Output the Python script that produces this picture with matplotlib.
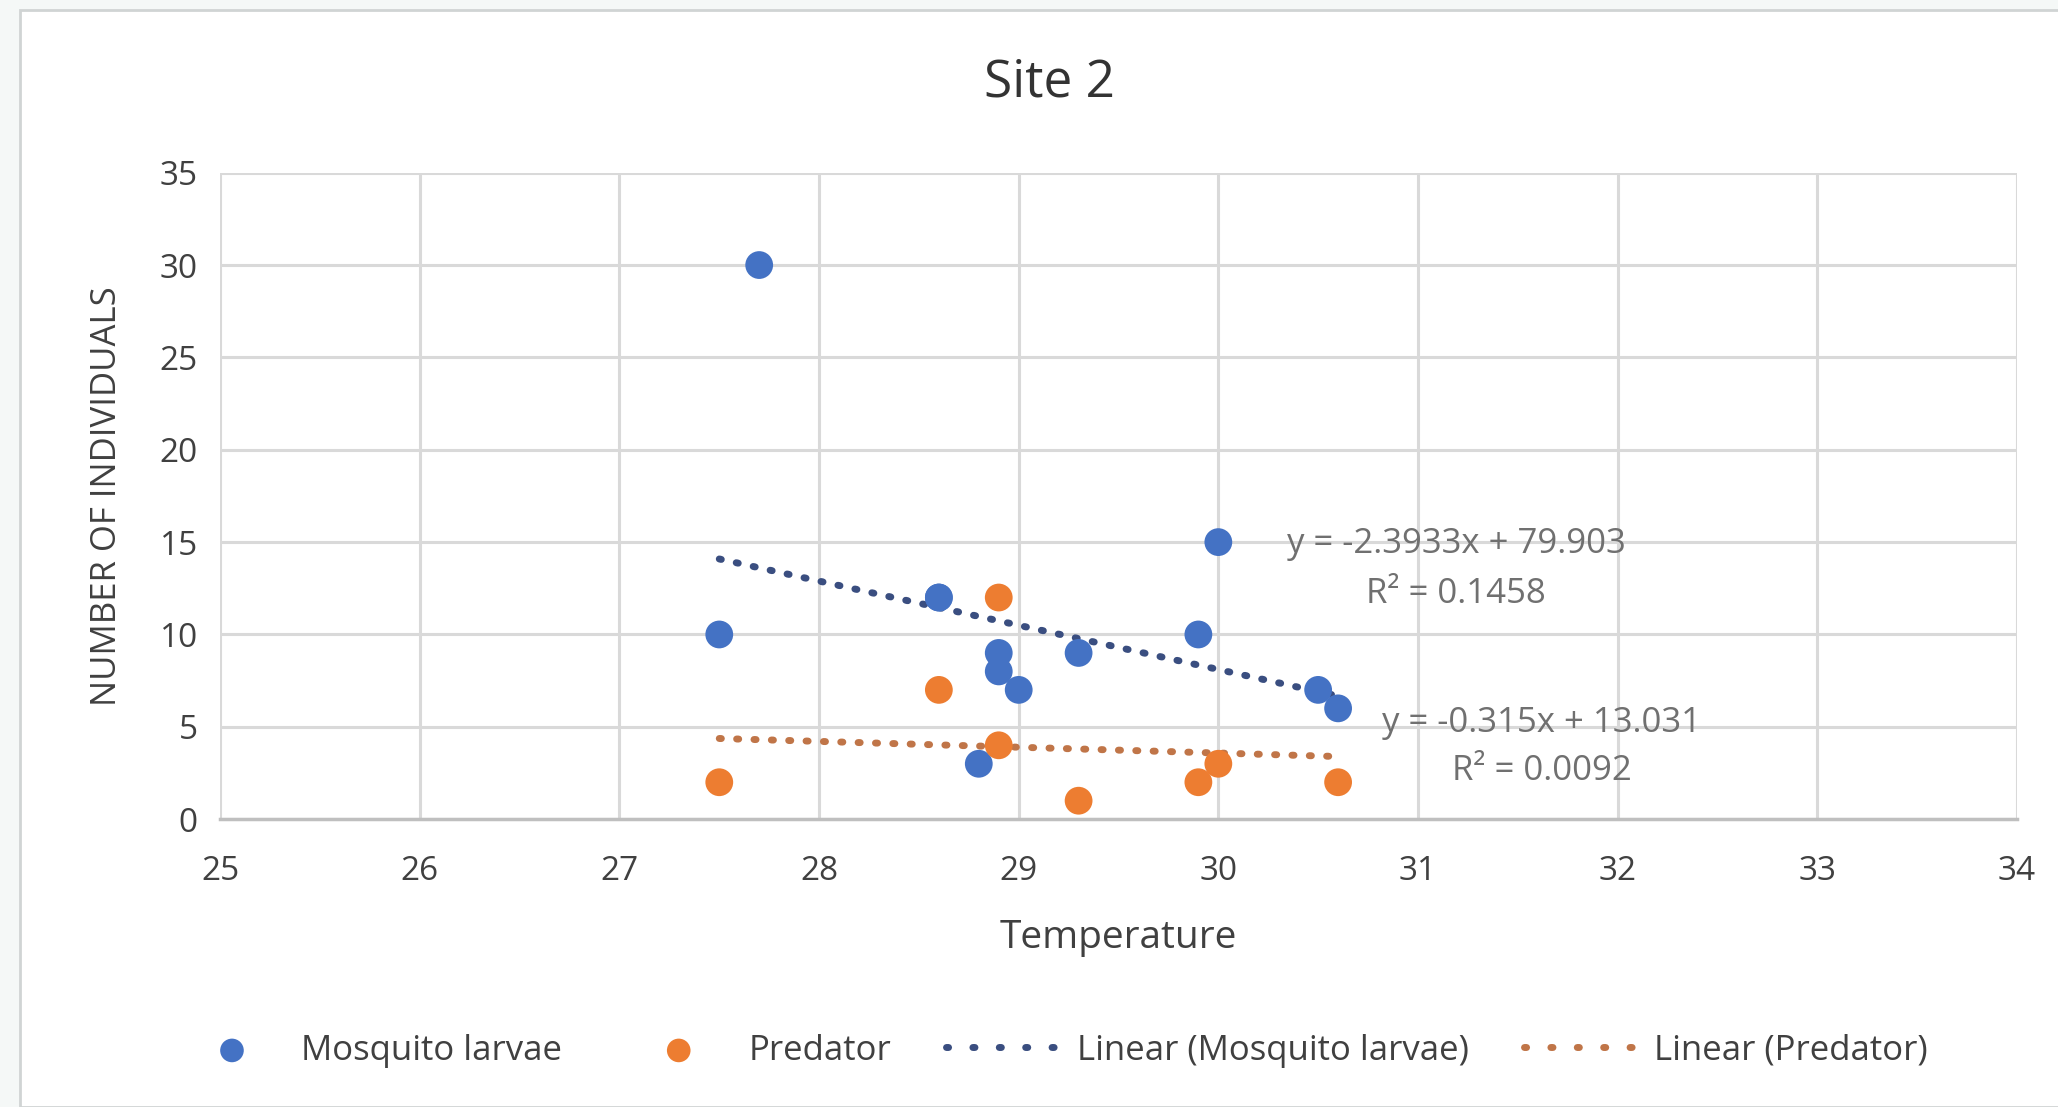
import matplotlib
matplotlib.use("Agg")
import matplotlib.pyplot as plt
from matplotlib.patches import Rectangle
from matplotlib.lines import Line2D
import numpy as np

plt.rcParams['font.family'] = ['Open Sans', 'DejaVu Sans']

# Data
mosq_temp = [27.5, 27.7, 28.6, 28.6, 28.8, 28.9, 28.9, 29.0, 29.3, 29.9, 30.0, 30.5, 30.6]
mosq_count = [10, 30, 12, 12, 3, 9, 8, 7, 9, 10, 15, 7, 6]
pred_temp = [27.5, 28.6, 28.9, 28.9, 29.3, 29.9, 30.0, 30.6]
pred_count = [2, 7, 12, 4, 1, 2, 3, 2]

mosq_fit = (-2.3933, 79.903, 0.1458)
pred_fit = (-0.315, 13.031, 0.0092)

x_ticks = [25, 26, 27, 28, 29, 30, 31, 32, 33, 34]
y_ticks = [0, 5, 10, 15, 20, 25, 30, 35]

blue = '#4472C4'
orange = '#ED7D31'
blue_trend = '#3A4E80'
orange_trend = '#C07548'
grid_c = '#D9D9D9'
text_c = '#404040'

fig = plt.figure(figsize=(20.58, 11.07), dpi=100)
fig.patch.set_facecolor('#F5F8F7')
fig.add_artist(Rectangle((20/2058, 0), 1.0, 1 - 10/1107, transform=fig.transFigure,
                         facecolor='white', edgecolor='#D0D4D4', linewidth=2, zorder=0))

ax = fig.add_axes([0.107, 0.260, 0.873, 0.584])
ax.set_facecolor('white')

ax.set_xlim(25, 34)
ax.set_ylim(0, 35)
ax.set_xticks(x_ticks)
ax.set_yticks(y_ticks)
ax.grid(True, color=grid_c, linewidth=2.2, zorder=0)
ax.set_axisbelow(True)
for s in ['top', 'right', 'left']:
    ax.spines[s].set_visible(False)
ax.spines['bottom'].set_color('#BFBFBF')
ax.spines['bottom'].set_linewidth(2.5)
ax.tick_params(axis='x', length=0, labelsize=24, colors=text_c, pad=26)
ax.tick_params(axis='y', length=0, labelsize=24, colors=text_c, pad=16)

# Trendlines
def trend(fit, xs):
    x0, x1 = min(xs), max(xs)
    xx = np.array([x0, x1])
    return xx, fit[0] * xx + fit[1]

dot_style = (0, (0.3, 2.2))
tx, ty = trend(mosq_fit, mosq_temp)
ax.plot(tx, ty, color=blue_trend, linewidth=5, linestyle=dot_style,
        dash_capstyle='round', zorder=2)
tx, ty = trend(pred_fit, pred_temp)
ax.plot(tx, ty, color=orange_trend, linewidth=5, linestyle=dot_style,
        dash_capstyle='round', zorder=2)

s1 = ax.scatter(mosq_temp, mosq_count, s=400, color=blue, zorder=3, label='Mosquito larvae',
                edgecolors='none')
s2 = ax.scatter(pred_temp, pred_count, s=400, color=orange, zorder=3, label='Predator',
                edgecolors='none')

leg_dot = (0, (0.3, 3.5))
l1 = Line2D([], [], color=blue_trend, linewidth=5, linestyle=leg_dot,
            dash_capstyle='round', label='Linear (Mosquito larvae)')
l2 = Line2D([], [], color=orange_trend, linewidth=5, linestyle=leg_dot,
            dash_capstyle='round', label='Linear (Predator)')

ann_c = '#707070'
ax.text(31.19, 14.9, f"y = {mosq_fit[0]}x + {mosq_fit[1]}", ha='center', va='center',
        fontsize=25, color=ann_c)
ax.text(31.19, 12.2, f"R² = {mosq_fit[2]}", ha='center', va='center',
        fontsize=25, color=ann_c)
ax.text(31.62, 5.2, f"y = {pred_fit[0]}x + {pred_fit[1]}", ha='center', va='center',
        fontsize=25, color=ann_c)
ax.text(31.62, 2.6, f"R² = {pred_fit[2]:.4f}", ha='center', va='center',
        fontsize=25, color=ann_c)

ax.set_xlabel('Temperature', fontsize=28, color=text_c, labelpad=22)
ax.set_ylabel('NUMBER OF INDIVIDUALS', fontsize=25, color=text_c, labelpad=26)
fig.text(0.51, 0.925, 'Site 2', ha='center', va='center', fontsize=37, color='#333333')

fig.legend(handles=[s1, s2, l1, l2], loc='center', bbox_to_anchor=(0.51, 0.051), ncol=4,
           frameon=False, fontsize=25, labelcolor=text_c, markerscale=0.85,
           handlelength=3.5, columnspacing=1.6, handletextpad=0.25)

fig.savefig('out.png', dpi=100, facecolor=fig.get_facecolor())
